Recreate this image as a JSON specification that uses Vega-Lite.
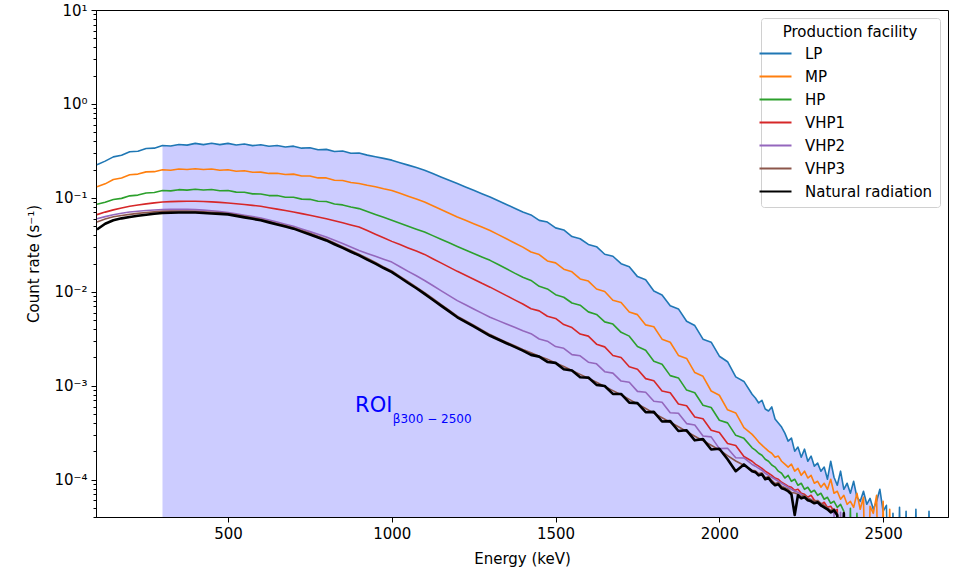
{
  "$schema": "https://vega.github.io/schema/vega-lite/v6.json",
  "width": 852,
  "height": 507,
  "autosize": {"type": "none"},
  "padding": {"left": 96, "top": 10, "right": 5, "bottom": 55},
  "background": "white",
  "config": {
    "font": "DejaVu Sans",
    "view": {"stroke": "black", "strokeWidth": 1},
    "axis": {"domainColor": "black", "tickColor": "black", "labelColor": "black", "titleColor": "black", "labelFontSize": 15, "titleFontSize": 15, "titleFontWeight": "normal", "grid": false, "labelFont": "DejaVu Sans", "titleFont": "DejaVu Sans"}
  },
  "datasets": {
    "spec": [
      {"E":100,"LP":0.225,"MP":0.131,"HP":0.0855,"VHP1":0.0663,"VHP2":0.06,"VHP3":0.0553,"NR":0.046},
      {"E":125,"LP":0.246,"MP":0.141,"HP":0.0896,"VHP1":0.0705,"VHP2":0.0631,"VHP3":0.0595,"NR":0.053},
      {"E":150,"LP":0.273,"MP":0.157,"HP":0.096,"VHP1":0.0745,"VHP2":0.0661,"VHP3":0.0628,"NR":0.0577},
      {"E":175,"LP":0.284,"MP":0.163,"HP":0.0987,"VHP1":0.078,"VHP2":0.0686,"VHP3":0.065,"NR":0.0605},
      {"E":200,"LP":0.31,"MP":0.176,"HP":0.105,"VHP1":0.0813,"VHP2":0.0707,"VHP3":0.0667,"NR":0.0625},
      {"E":225,"LP":0.313,"MP":0.179,"HP":0.107,"VHP1":0.0839,"VHP2":0.0721,"VHP3":0.0683,"NR":0.0645},
      {"E":250,"LP":0.335,"MP":0.189,"HP":0.1126,"VHP1":0.0862,"VHP2":0.0734,"VHP3":0.0697,"NR":0.0662},
      {"E":275,"LP":0.338,"MP":0.19,"HP":0.1139,"VHP1":0.0884,"VHP2":0.0743,"VHP3":0.0709,"NR":0.0677},
      {"E":300,"LP":0.361,"MP":0.199,"HP":0.1198,"VHP1":0.0904,"VHP2":0.075,"VHP3":0.072,"NR":0.069},
      {"E":325,"LP":0.356,"MP":0.197,"HP":0.1186,"VHP1":0.0911,"VHP2":0.0753,"VHP3":0.0723,"NR":0.0695},
      {"E":350,"LP":0.37,"MP":0.203,"HP":0.1222,"VHP1":0.0917,"VHP2":0.0754,"VHP3":0.0725,"NR":0.0698},
      {"E":375,"LP":0.364,"MP":0.2,"HP":0.1208,"VHP1":0.092,"VHP2":0.0753,"VHP3":0.0724,"NR":0.0699},
      {"E":400,"LP":0.38,"MP":0.204,"HP":0.1237,"VHP1":0.0921,"VHP2":0.075,"VHP3":0.072,"NR":0.0697},
      {"E":425,"LP":0.369,"MP":0.2,"HP":0.121,"VHP1":0.0914,"VHP2":0.0741,"VHP3":0.0712,"NR":0.069},
      {"E":450,"LP":0.382,"MP":0.203,"HP":0.1227,"VHP1":0.0905,"VHP2":0.073,"VHP3":0.0703,"NR":0.0682},
      {"E":475,"LP":0.369,"MP":0.197,"HP":0.1188,"VHP1":0.0895,"VHP2":0.0715,"VHP3":0.0693,"NR":0.0675},
      {"E":500,"LP":0.38,"MP":0.199,"HP":0.1198,"VHP1":0.0883,"VHP2":0.0697,"VHP3":0.0682,"NR":0.0667},
      {"E":525,"LP":0.365,"MP":0.192,"HP":0.115,"VHP1":0.0865,"VHP2":0.0676,"VHP3":0.066,"NR":0.0643},
      {"E":550,"LP":0.374,"MP":0.194,"HP":0.1148,"VHP1":0.0848,"VHP2":0.0654,"VHP3":0.0636,"NR":0.062},
      {"E":575,"LP":0.36,"MP":0.187,"HP":0.1102,"VHP1":0.0831,"VHP2":0.0632,"VHP3":0.0613,"NR":0.0598},
      {"E":600,"LP":0.367,"MP":0.188,"HP":0.1101,"VHP1":0.0813,"VHP2":0.061,"VHP3":0.059,"NR":0.0577},
      {"E":625,"LP":0.354,"MP":0.182,"HP":0.1057,"VHP1":0.0786,"VHP2":0.0581,"VHP3":0.0561,"NR":0.0548},
      {"E":650,"LP":0.361,"MP":0.183,"HP":0.1057,"VHP1":0.0759,"VHP2":0.0552,"VHP3":0.0533,"NR":0.0521},
      {"E":675,"LP":0.348,"MP":0.177,"HP":0.1016,"VHP1":0.0733,"VHP2":0.0524,"VHP3":0.0506,"NR":0.0495},
      {"E":700,"LP":0.355,"MP":0.179,"HP":0.1016,"VHP1":0.0707,"VHP2":0.0498,"VHP3":0.048,"NR":0.047},
      {"E":725,"LP":0.338,"MP":0.171,"HP":0.0969,"VHP1":0.0679,"VHP2":0.0467,"VHP3":0.045,"NR":0.0437},
      {"E":750,"LP":0.341,"MP":0.171,"HP":0.0964,"VHP1":0.0652,"VHP2":0.0437,"VHP3":0.0419,"NR":0.0407},
      {"E":775,"LP":0.325,"MP":0.163,"HP":0.092,"VHP1":0.0625,"VHP2":0.0409,"VHP3":0.0389,"NR":0.0378},
      {"E":800,"LP":0.328,"MP":0.163,"HP":0.0913,"VHP1":0.06,"VHP2":0.0382,"VHP3":0.0363,"NR":0.0352},
      {"E":825,"LP":0.311,"MP":0.154,"HP":0.0859,"VHP1":0.057,"VHP2":0.0353,"VHP3":0.0331,"NR":0.0321},
      {"E":850,"LP":0.315,"MP":0.153,"HP":0.0841,"VHP1":0.0542,"VHP2":0.0326,"VHP3":0.0302,"NR":0.0293},
      {"E":875,"LP":0.298,"MP":0.1455,"HP":0.08,"VHP1":0.0515,"VHP2":0.03,"VHP3":0.0275,"NR":0.0267},
      {"E":900,"LP":0.3,"MP":0.142,"HP":0.0768,"VHP1":0.0489,"VHP2":0.0275,"VHP3":0.0251,"NR":0.0244},
      {"E":925,"LP":0.285,"MP":0.136,"HP":0.0715,"VHP1":0.0448,"VHP2":0.0256,"VHP3":0.0227,"NR":0.022},
      {"E":950,"LP":0.274,"MP":0.131,"HP":0.0666,"VHP1":0.041,"VHP2":0.0239,"VHP3":0.0205,"NR":0.0199},
      {"E":975,"LP":0.263,"MP":0.125,"HP":0.062,"VHP1":0.0376,"VHP2":0.0222,"VHP3":0.0184,"NR":0.0179},
      {"E":1000,"LP":0.252,"MP":0.12,"HP":0.0577,"VHP1":0.0344,"VHP2":0.0207,"VHP3":0.0167,"NR":0.0162},
      {"E":1025,"LP":0.237,"MP":0.1118,"HP":0.0537,"VHP1":0.0318,"VHP2":0.0185,"VHP3":0.0146,"NR":0.0142},
      {"E":1050,"LP":0.223,"MP":0.1042,"HP":0.0499,"VHP1":0.0293,"VHP2":0.0165,"VHP3":0.0128,"NR":0.0124},
      {"E":1075,"LP":0.21,"MP":0.0971,"HP":0.0464,"VHP1":0.0271,"VHP2":0.0148,"VHP3":0.0112,"NR":0.0109},
      {"E":1100,"LP":0.197,"MP":0.0904,"HP":0.0432,"VHP1":0.025,"VHP2":0.0132,"VHP3":0.0098,"NR":0.0095},
      {"E":1125,"LP":0.1815,"MP":0.0824,"HP":0.0396,"VHP1":0.0225,"VHP2":0.01166,"VHP3":0.00848,"NR":0.00823},
      {"E":1150,"LP":0.167,"MP":0.0752,"HP":0.0362,"VHP1":0.0203,"VHP2":0.0103,"VHP3":0.00734,"NR":0.00713},
      {"E":1175,"LP":0.154,"MP":0.0685,"HP":0.0332,"VHP1":0.0183,"VHP2":0.0091,"VHP3":0.00637,"NR":0.00618},
      {"E":1200,"LP":0.142,"MP":0.0625,"HP":0.0304,"VHP1":0.0165,"VHP2":0.00805,"VHP3":0.00551,"NR":0.00535},
      {"E":1225,"LP":0.1307,"MP":0.0576,"HP":0.0279,"VHP1":0.015,"VHP2":0.00727,"VHP3":0.00492,"NR":0.00478},
      {"E":1250,"LP":0.1204,"MP":0.053,"HP":0.0256,"VHP1":0.0136,"VHP2":0.00656,"VHP3":0.0044,"NR":0.00427},
      {"E":1275,"LP":0.1108,"MP":0.0489,"HP":0.0235,"VHP1":0.0123,"VHP2":0.00593,"VHP3":0.00392,"NR":0.00381},
      {"E":1300,"LP":0.102,"MP":0.045,"HP":0.0216,"VHP1":0.0112,"VHP2":0.00535,"VHP3":0.0035,"NR":0.0034},
      {"E":1325,"LP":0.0931,"MP":0.0406,"HP":0.0195,"VHP1":0.0101,"VHP2":0.00493,"VHP3":0.00319,"NR":0.0031},
      {"E":1350,"LP":0.0849,"MP":0.0367,"HP":0.0176,"VHP1":0.0091,"VHP2":0.00454,"VHP3":0.00291,"NR":0.00283},
      {"E":1375,"LP":0.0775,"MP":0.0331,"HP":0.0158,"VHP1":0.0082,"VHP2":0.00418,"VHP3":0.00267,"NR":0.00259},
      {"E":1400,"LP":0.0707,"MP":0.0299,"HP":0.0143,"VHP1":0.0074,"VHP2":0.00385,"VHP3":0.00243,"NR":0.00236},
      {"E":1425,"LP":0.0658,"MP":0.0265,"HP":0.0132,"VHP1":0.0066,"VHP2":0.00358,"VHP3":0.00224,"NR":0.00213},
      {"E":1450,"LP":0.0576,"MP":0.0249,"HP":0.01143,"VHP1":0.00626,"VHP2":0.00314,"VHP3":0.00206,"NR":0.00204},
      {"E":1475,"LP":0.0552,"MP":0.0213,"HP":0.01073,"VHP1":0.00549,"VHP2":0.00298,"VHP3":0.00191,"NR":0.00179},
      {"E":1500,"LP":0.0479,"MP":0.0203,"HP":0.00931,"VHP1":0.0052,"VHP2":0.00261,"VHP3":0.00175,"NR":0.00175},
      {"E":1525,"LP":0.0455,"MP":0.0174,"HP":0.00874,"VHP1":0.00447,"VHP2":0.0025,"VHP3":0.0016,"NR":0.0015},
      {"E":1550,"LP":0.0387,"MP":0.0163,"HP":0.00759,"VHP1":0.00416,"VHP2":0.00214,"VHP3":0.00145,"NR":0.00145},
      {"E":1575,"LP":0.0367,"MP":0.0137,"HP":0.00719,"VHP1":0.00355,"VHP2":0.00208,"VHP3":0.00132,"NR":0.00123},
      {"E":1600,"LP":0.0319,"MP":0.013,"HP":0.00611,"VHP1":0.00337,"VHP2":0.00178,"VHP3":0.0012,"NR":0.00122},
      {"E":1625,"LP":0.0302,"MP":0.0107,"HP":0.00574,"VHP1":0.00277,"VHP2":0.00171,"VHP3":0.00109,"NR":0.00102},
      {"E":1650,"LP":0.0251,"MP":0.01005,"HP":0.00478,"VHP1":0.00259,"VHP2":0.00141,"VHP3":0.000983,"NR":0.000992},
      {"E":1675,"LP":0.0239,"MP":0.00811,"HP":0.00453,"VHP1":0.0021,"VHP2":0.00136,"VHP3":0.000887,"NR":0.000818},
      {"E":1700,"LP":0.0199,"MP":0.0077,"HP":0.0037,"VHP1":0.002,"VHP2":0.00112,"VHP3":0.0008,"NR":0.000817},
      {"E":1725,"LP":0.0185,"MP":0.00609,"HP":0.00337,"VHP1":0.00159,"VHP2":0.00109,"VHP3":0.000716,"NR":0.00066},
      {"E":1750,"LP":0.0145,"MP":0.00571,"HP":0.00261,"VHP1":0.0015,"VHP2":0.00087,"VHP3":0.00064,"NR":0.000652},
      {"E":1775,"LP":0.0134,"MP":0.00444,"HP":0.00239,"VHP1":0.00119,"VHP2":0.000852,"VHP3":0.000572,"NR":0.000522},
      {"E":1800,"LP":0.0102,"MP":0.00424,"HP":0.00182,"VHP1":0.00113,"VHP2":0.000682,"VHP3":0.000511,"NR":0.000526},
      {"E":1825,"LP":0.00925,"MP":0.00313,"HP":0.00169,"VHP1":0.00088,"VHP2":0.000666,"VHP3":0.000456,"NR":0.000416},
      {"E":1850,"LP":0.00709,"MP":0.0029,"HP":0.00128,"VHP1":0.000842,"VHP2":0.000516,"VHP3":0.000408,"NR":0.00042},
      {"E":1875,"LP":0.00657,"MP":0.0021,"HP":0.00121,"VHP1":0.000639,"VHP2":0.000509,"VHP3":0.000365,"NR":0.000329},
      {"E":1900,"LP":0.00485,"MP":0.00195,"HP":0.000898,"VHP1":0.000612,"VHP2":0.000395,"VHP3":0.000325,"NR":0.000335},
      {"E":1925,"LP":0.00437,"MP":0.00138,"HP":0.000842,"VHP1":0.000465,"VHP2":0.000382,"VHP3":0.00029,"NR":0.000262},
      {"E":1950,"LP":0.00313,"MP":0.00126,"HP":0.00062,"VHP1":0.000445,"VHP2":0.000291,"VHP3":0.00026,"NR":0.00027},
      {"E":1975,"LP":0.00291,"MP":0.000878,"HP":0.000586,"VHP1":0.000336,"VHP2":0.000285,"VHP3":0.000232,"NR":0.000209},
      {"E":2000,"LP":0.00206,"MP":0.000791,"HP":0.000429,"VHP1":0.000318,"VHP2":0.000214,"VHP3":0.000207,"NR":0.000213},
      {"E":2025,"LP":0.0018,"MP":0.000553,"HP":0.000402,"VHP1":0.000242,"VHP2":0.000216,"VHP3":0.00018,"NR":0.000165},
      {"E":2050,"LP":0.00124,"MP":0.000513,"HP":0.000296,"VHP1":0.000231,"VHP2":0.000171,"VHP3":0.000158,"NR":0.000123},
      {"E":2075,"LP":0.00111,"MP":0.000357,"HP":0.000275,"VHP1":0.000176,"VHP2":0.00017,"VHP3":0.000142,"NR":0.000145},
      {"E":2100,"LP":0.00081,"MP":0.000303,"HP":0.000218,"VHP1":0.000157,"VHP2":0.000145,"VHP3":0.000126,"NR":0.000123},
      {"E":2110,"LP":7.4e-4,"MP":2.77e-4,"HP":2.06e-4,"VHP1":1.46e-4,"VHP2":1.39e-4,"VHP3":1.24e-4,"NR":1.2e-4},
      {"E":2120,"LP":6.55e-4,"MP":2.51e-4,"HP":1.91e-4,"VHP1":1.39e-4,"VHP2":1.32e-4,"VHP3":1.16e-4,"NR":1.11e-4},
      {"E":2130,"LP":7.0e-4,"MP":2.33e-4,"HP":1.82e-4,"VHP1":1.32e-4,"VHP2":1.26e-4,"VHP3":1.18e-4,"NR":1.14e-4},
      {"E":2140,"LP":5.65e-4,"MP":2.16e-4,"HP":1.65e-4,"VHP1":1.23e-4,"VHP2":1.17e-4,"VHP3":1.05e-4,"NR":1.01e-4},
      {"E":2150,"LP":5.38e-4,"MP":2.01e-4,"HP":1.57e-4,"VHP1":1.17e-4,"VHP2":1.11e-4,"VHP3":1.08e-4,"NR":1.04e-4},
      {"E":2160,"LP":5.94e-4,"MP":1.91e-4,"HP":1.43e-4,"VHP1":1.11e-4,"VHP2":1.06e-4,"VHP3":9.8e-5,"NR":9.38e-5},
      {"E":2170,"LP":4.42e-4,"MP":1.73e-4,"HP":1.36e-4,"VHP1":1.04e-4,"VHP2":1.01e-4,"VHP3":9.1e-5,"NR":8.71e-5},
      {"E":2180,"LP":4.01e-4,"MP":1.78e-4,"HP":1.23e-4,"VHP1":1.01e-4,"VHP2":9.6e-5,"VHP3":9.3e-5,"NR":8.93e-5},
      {"E":2190,"LP":3.63e-4,"MP":1.57e-4,"HP":1.17e-4,"VHP1":9.38e-5,"VHP2":9.15e-5,"VHP3":8.5e-5,"NR":8.1e-5},
      {"E":2200,"LP":3.13e-4,"MP":1.46e-4,"HP":1.04e-4,"VHP1":8.93e-5,"VHP2":8.71e-5,"VHP3":8.2e-5,"NR":7.89e-5},
      {"E":2210,"LP":2.57e-4,"MP":1.36e-4,"HP":1.11e-4,"VHP1":8.5e-5,"VHP2":8.3e-5,"VHP3":7.9e-5,"NR":7.52e-5},
      {"E":2220,"LP":2.77e-4,"MP":1.46e-4,"HP":9.6e-5,"VHP1":8.3e-5,"VHP2":7.89e-5,"VHP3":7.3e-5,"NR":6.98e-5},
      {"E":2230,"LP":2.01e-4,"MP":1.23e-4,"HP":1.01e-4,"VHP1":7.71e-5,"VHP2":7.52e-5,"VHP3":7.2e-5,"NR":4.2e-5},
      {"E":2240,"LP":2.22e-4,"MP":1.32e-4,"HP":8.71e-5,"VHP1":7.89e-5,"VHP2":7.33e-5,"VHP3":7.0e-5,"NR":6.81e-5},
      {"E":2250,"LP":1.73e-4,"MP":1.11e-4,"HP":9.15e-5,"VHP1":7.16e-5,"VHP2":6.98e-5,"VHP3":6.6e-5,"NR":6.32e-5},
      {"E":2260,"LP":2.11e-4,"MP":1.23e-4,"HP":7.89e-5,"VHP1":6.98e-5,"VHP2":6.65e-5,"VHP3":6.8e-5,"NR":6.49e-5},
      {"E":2270,"LP":1.57e-4,"MP":1.04e-4,"HP":8.3e-5,"VHP1":6.49e-5,"VHP2":6.32e-5,"VHP3":6.3e-5,"NR":6.03e-5},
      {"E":2280,"LP":1.78e-4,"MP":1.11e-4,"HP":7.33e-5,"VHP1":6.81e-5,"VHP2":6.18e-5,"VHP3":6.1e-5,"NR":5.88e-5},
      {"E":2290,"LP":1.39e-4,"MP":9.15e-5,"HP":7.71e-5,"VHP1":6.03e-5,"VHP2":5.74e-5,"VHP3":5.9e-5,"NR":5.6e-5},
      {"E":2300,"LP":1.5e-4,"MP":9.6e-5,"HP":6.81e-5,"VHP1":5.88e-5,"VHP2":5.6e-5,"VHP3":6.0e-5,"NR":5.74e-5},
      {"E":2310,"LP":1.23e-4,"MP":8.3e-5,"HP":7.16e-5,"VHP1":5.46e-5,"VHP2":5.2e-5,"VHP3":5.6e-5,"NR":5.33e-5},
      {"E":2320,"LP":1.36e-4,"MP":9.15e-5,"HP":6.18e-5,"VHP1":5.74e-5,"VHP2":5.33e-5,"VHP3":5.3e-5,"NR":5.07e-5},
      {"E":2330,"LP":1.01e-4,"MP":7.89e-5,"HP":6.49e-5,"VHP1":5.07e-5,"VHP2":4.83e-5,"VHP3":5.0e-5,"NR":4.83e-5},
      {"E":2340,"LP":1.57e-4,"MP":1.01e-4,"HP":5.6e-5,"VHP1":5.2e-5,"VHP2":4.71e-5,"VHP3":4.7e-5,"NR":4.48e-5},
      {"E":2350,"LP":1.06e-4,"MP":7.16e-5,"HP":5.88e-5,"VHP1":4.59e-5,"VHP2":4.38e-5,"VHP3":4.9e-5,"NR":4.71e-5},
      {"E":2360,"LP":8.71e-5,"MP":7.52e-5,"HP":5.07e-5,"VHP1":4.83e-5,"VHP2":1e-6,"VHP3":4.4e-5,"NR":4.17e-5},
      {"E":2370,"LP":1.23e-4,"MP":6.18e-5,"HP":5.46e-5,"VHP1":1e-6,"VHP2":4.48e-5,"VHP3":1e-6,"NR":1e-6},
      {"E":2380,"LP":7.89e-5,"MP":6.81e-5,"HP":4.59e-5,"VHP1":4.38e-5,"VHP2":1e-6,"VHP3":4.5e-5,"NR":4.38e-5},
      {"E":2390,"LP":9.15e-5,"MP":5.46e-5,"HP":1e-6,"VHP1":1e-6,"VHP2":1e-6,"VHP3":1e-6,"NR":1e-6},
      {"E":2400,"LP":7.16e-5,"MP":5.88e-5,"HP":4.95e-5,"VHP1":1e-6,"VHP2":1e-6,"VHP3":1e-6,"NR":1e-6},
      {"E":2410,"LP":9.6e-5,"MP":5.07e-5,"HP":1e-6,"VHP1":1e-6,"VHP2":1e-6,"VHP3":1e-6,"NR":1e-6},
      {"E":2420,"LP":6.49e-5,"MP":7.16e-5,"HP":4.38e-5,"VHP1":1e-6,"VHP2":1e-6,"VHP3":1e-6,"NR":1e-6},
      {"E":2430,"LP":5.88e-5,"MP":4.83e-5,"HP":1e-6,"VHP1":1e-6,"VHP2":1e-6,"VHP3":1e-6,"NR":1e-6},
      {"E":2440,"LP":7.52e-5,"MP":6.49e-5,"HP":1e-6,"VHP1":1e-6,"VHP2":1e-6,"VHP3":1e-6,"NR":1e-6},
      {"E":2450,"LP":5.46e-5,"MP":1e-6,"HP":1e-6,"VHP1":1e-6,"VHP2":1e-6,"VHP3":1e-6,"NR":1e-6},
      {"E":2460,"LP":6.32e-5,"MP":5.2e-5,"HP":1e-6,"VHP1":1e-6,"VHP2":1e-6,"VHP3":1e-6,"NR":1e-6},
      {"E":2470,"LP":4.83e-5,"MP":4.38e-5,"HP":1e-6,"VHP1":1e-6,"VHP2":1e-6,"VHP3":1e-6,"NR":1e-6},
      {"E":2480,"LP":5.88e-5,"MP":6.81e-5,"HP":1e-6,"VHP1":1e-6,"VHP2":1e-6,"VHP3":1e-6,"NR":1e-6},
      {"E":2490,"LP":7.89e-5,"MP":1e-6,"HP":1e-6,"VHP1":1e-6,"VHP2":1e-6,"VHP3":1e-6,"NR":1e-6},
      {"E":2500,"LP":4.59e-5,"MP":5.88e-5,"HP":1e-6,"VHP1":1e-6,"VHP2":1e-6,"VHP3":1e-6,"NR":1e-6},
      {"E":2510,"LP":5.33e-5,"MP":1e-6,"HP":1e-6,"VHP1":1e-6,"VHP2":1e-6,"VHP3":1e-6,"NR":1e-6},
      {"E":2520,"LP":1e-6,"MP":4.83e-5,"HP":1e-6,"VHP1":1e-6,"VHP2":1e-6,"VHP3":1e-6,"NR":1e-6},
      {"E":2530,"LP":4.38e-5,"MP":1e-6,"HP":1e-6,"VHP1":1e-6,"VHP2":1e-6,"VHP3":1e-6,"NR":1e-6},
      {"E":2540,"LP":1e-6,"MP":1e-6,"HP":1e-6,"VHP1":1e-6,"VHP2":1e-6,"VHP3":1e-6,"NR":1e-6},
      {"E":2550,"LP":5.07e-5,"MP":1e-6,"HP":1e-6,"VHP1":1e-6,"VHP2":1e-6,"VHP3":1e-6,"NR":1e-6},
      {"E":2560,"LP":1e-6,"MP":1e-6,"HP":1e-6,"VHP1":1e-6,"VHP2":1e-6,"VHP3":1e-6,"NR":1e-6},
      {"E":2570,"LP":4.59e-5,"MP":1e-6,"HP":1e-6,"VHP1":1e-6,"VHP2":1e-6,"VHP3":1e-6,"NR":1e-6},
      {"E":2580,"LP":1e-6,"MP":1e-6,"HP":1e-6,"VHP1":1e-6,"VHP2":1e-6,"VHP3":1e-6,"NR":1e-6},
      {"E":2590,"LP":1e-6,"MP":1e-6,"HP":1e-6,"VHP1":1e-6,"VHP2":1e-6,"VHP3":1e-6,"NR":1e-6},
      {"E":2600,"LP":4.83e-5,"MP":1e-6,"HP":1e-6,"VHP1":1e-6,"VHP2":1e-6,"VHP3":1e-6,"NR":1e-6},
      {"E":2610,"LP":1e-6,"MP":1e-6,"HP":1e-6,"VHP1":1e-6,"VHP2":1e-6,"VHP3":1e-6,"NR":1e-6},
      {"E":2630,"LP":1e-6,"MP":1e-6,"HP":1e-6,"VHP1":1e-6,"VHP2":1e-6,"VHP3":1e-6,"NR":1e-6},
      {"E":2640,"LP":4.59e-5,"MP":1e-6,"HP":1e-6,"VHP1":1e-6,"VHP2":1e-6,"VHP3":1e-6,"NR":1e-6},
      {"E":2650,"LP":1e-6,"MP":1e-6,"HP":1e-6,"VHP1":1e-6,"VHP2":1e-6,"VHP3":1e-6,"NR":1e-6}
    ]
  },
  "layer": [
    {
      "data": {"name": "spec"},
      "transform": [{"filter": "datum.E >= 300 && datum.E <= 2500"}],
      "mark": {"type": "area", "color": "#ccccff", "opacity": 1, "clip": true},
      "encoding": {
        "x": {"field": "E", "type": "quantitative", "scale": {"domain": [97, 2698], "nice": false, "zero": false},
          "axis": {"title": "Energy (keV)", "values": [500, 1000, 1500, 2000, 2500], "format": "d", "tickSize": 5, "labelPadding": 4, "titlePadding": 10, "labelFlush": false}},
        "y": {"field": "LP", "type": "quantitative", "scale": {"type": "log", "domain": [0.00004, 10], "nice": false},
          "axis": {"title": "Count rate (s⁻¹)", "titlePadding": 12, "labelPadding": 4, "labelOverlap": false, "labelFlush": false,
            "values": [0.00004,0.00005,0.00006,0.00007,0.00008,0.00009,0.0001,0.0002,0.0003,0.0004,0.0005,0.0006,0.0007,0.0008,0.0009,0.001,0.002,0.003,0.004,0.005,0.006,0.007,0.008,0.009,0.01,0.02,0.03,0.04,0.05,0.06,0.07,0.08,0.09,0.1,0.2,0.3,0.4,0.5,0.6,0.7,0.8,0.9,1,2,3,4,5,6,7,8,9,10],
            "tickSize": {"condition": {"test": "abs(log(datum.value)/LN10 - round(log(datum.value)/LN10)) < 0.001", "value": 5}, "value": 3},
            "labelExpr": "abs(log(datum.value)/LN10 - round(log(datum.value)/LN10)) < 0.001 ? '10' + replace(replace(replace(replace(replace(replace('' + round(log(datum.value)/LN10), '-', '⁻'), '0', '⁰'), '1', '¹'), '2', '²'), '3', '³'), '4', '⁴') : ''"}},
        "y2": {"datum": 0.00004}
      }
    },
    {
      "data": {"name": "spec"},
      "transform": [{"fold": ["LP", "MP", "HP", "VHP1", "VHP2", "VHP3", "NR"], "as": ["series", "rate"]}, {"filter": "datum.series != 'NR'"}],
      "mark": {"type": "line", "strokeWidth": 1.6, "clip": true, "strokeJoin": "round"},
      "encoding": {
        "x": {"field": "E", "type": "quantitative", "scale": {"domain": [97, 2698], "nice": false, "zero": false}, "title": "Energy (keV)"},
        "y": {"field": "rate", "type": "quantitative", "scale": {"type": "log", "domain": [0.00004, 10], "nice": false}, "title": "Count rate (s⁻¹)"},
        "color": {"field": "series", "type": "nominal",
          "scale": {"domain": ["LP", "MP", "HP", "VHP1", "VHP2", "VHP3", "NR"], "range": ["#1f77b4", "#ff7f0e", "#2ca02c", "#d62728", "#9467bd", "#8c564b", "#000000"]},
          "legend": {"title": "Production facility", "orient": "top-right", "offset": 8, "titleAnchor": "middle", "titleFontSize": 15, "titleFontWeight": "normal", "titleColor": "black", "titlePadding": 6,
            "labelFontSize": 15, "labelColor": "black", "labelOffset": 22, "symbolType": "M-3.2,0H3.2", "symbolSize": 100, "symbolStrokeWidth": 2, "rowPadding": 7,
            "fillColor": "white", "strokeColor": "#d0d0d0", "cornerRadius": 3, "padding": 7,
            "labelExpr": "datum.label == 'NR' ? 'Natural radiation' : datum.label"}}
      }
    },
    {
      "data": {"name": "spec"},
      "transform": [{"fold": ["NR"], "as": ["series", "rate"]}],
      "mark": {"type": "line", "strokeWidth": 2.6, "clip": true, "strokeJoin": "round"},
      "encoding": {
        "x": {"field": "E", "type": "quantitative", "scale": {"domain": [97, 2698], "nice": false, "zero": false}, "title": "Energy (keV)"},
        "y": {"field": "rate", "type": "quantitative", "scale": {"type": "log", "domain": [0.00004, 10], "nice": false}, "title": "Count rate (s⁻¹)"},
        "color": {"field": "series", "type": "nominal",
          "scale": {"domain": ["LP", "MP", "HP", "VHP1", "VHP2", "VHP3", "NR"], "range": ["#1f77b4", "#ff7f0e", "#2ca02c", "#d62728", "#9467bd", "#8c564b", "#000000"]},
          "legend": {"title": "Production facility", "orient": "top-right", "offset": 8, "titleAnchor": "middle", "titleFontSize": 15, "titleFontWeight": "normal", "titleColor": "black", "titlePadding": 6,
            "labelFontSize": 15, "labelColor": "black", "labelOffset": 22, "symbolType": "M-3.2,0H3.2", "symbolSize": 100, "symbolStrokeWidth": 2, "rowPadding": 7,
            "fillColor": "white", "strokeColor": "#d0d0d0", "cornerRadius": 3, "padding": 7,
            "labelExpr": "datum.label == 'NR' ? 'Natural radiation' : datum.label"}}
      }
    },
    {
      "data": {"values": [{"E": 888, "rate": 0.000519, "label": "ROI"}]},
      "mark": {"type": "text", "align": "left", "baseline": "alphabetic", "fontSize": 21, "color": "#0000ff", "font": "DejaVu Sans"},
      "encoding": {
        "x": {"field": "E", "type": "quantitative", "scale": {"domain": [97, 2698], "nice": false, "zero": false}, "title": "Energy (keV)"},
        "y": {"field": "rate", "type": "quantitative", "scale": {"type": "log", "domain": [0.00004, 10], "nice": false}, "title": "Count rate (s⁻¹)"},
        "text": {"field": "label"}
      }
    },
    {
      "data": {"values": [{"E": 1003, "rate": 0.000405, "label": "β300 − 2500"}]},
      "mark": {"type": "text", "align": "left", "baseline": "alphabetic", "fontSize": 12, "color": "#0000ff", "font": "DejaVu Sans"},
      "encoding": {
        "x": {"field": "E", "type": "quantitative", "scale": {"domain": [97, 2698], "nice": false, "zero": false}, "title": "Energy (keV)"},
        "y": {"field": "rate", "type": "quantitative", "scale": {"type": "log", "domain": [0.00004, 10], "nice": false}, "title": "Count rate (s⁻¹)"},
        "text": {"field": "label"}
      }
    }
  ]
}
